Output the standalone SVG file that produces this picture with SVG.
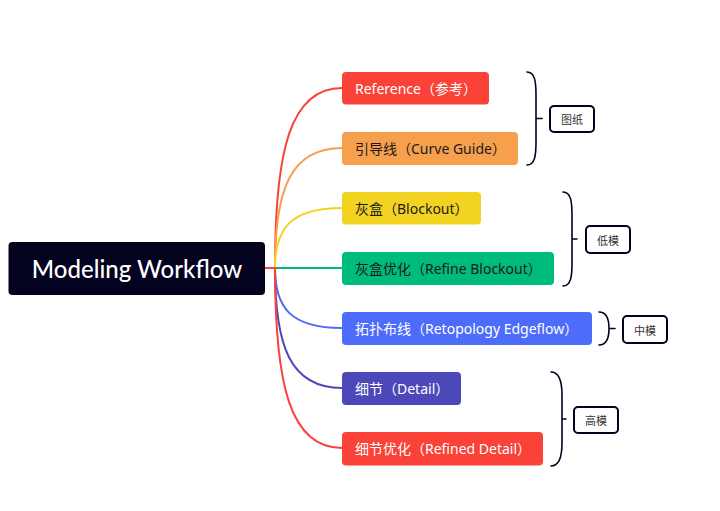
<svg xmlns="http://www.w3.org/2000/svg" width="720" height="511" viewBox="0 0 720 511">
<style>
.t{font-family:"Noto Sans","Noto Sans CJK SC",sans-serif;font-size:14px;font-weight:400;dominant-baseline:central}
.w{fill:#ffffff}.d{fill:#1a1a1a}
.c{fill:none;stroke-width:2;stroke-linecap:round}
.br{fill:none;stroke:#03021f;stroke-width:1.6;stroke-linecap:round}
.lb{fill:#ffffff;stroke:#03021f;stroke-width:2}
.lt{font-family:"Noto Sans CJK SC","Noto Sans",sans-serif;font-size:11px;fill:#333;text-anchor:middle;dominant-baseline:central}
</style>
<rect width="720" height="511" fill="#ffffff"/>
<g id="connectors">
<path class="c" stroke="#fa4238" d="M265,268 H275 C275,151 290,88 342,88"/>
<path class="c" stroke="#f6a04d" d="M275,268 C275,190 290,148 342,148"/>
<path class="c" stroke="#f3d321" d="M275,268 C275,229 290,208 342,208"/>
<path class="c" stroke="#00bc7b" d="M275,268 H342"/>
<path class="c" stroke="#4d6cfa" d="M275,268 C275,307 290,328 342,328"/>
<path class="c" stroke="#4d48ba" d="M275,268 C275,346 290,388 342,388"/>
<path class="c" stroke="#fa4238" d="M265,268 H275 C275,385 290,448 342,448"/>
</g>
<g id="root">
<rect x="8.5" y="242" width="256.5" height="53" rx="4" fill="#03021f"/>
<text x="137" y="268.5" text-anchor="middle" style="font-family:'Lato','Noto Sans',sans-serif;font-size:24px;font-weight:500;fill:#fff;dominant-baseline:central">Modeling Workflow</text>
</g>
<g id="n1"><rect x="342" y="72" width="147" height="32.5" rx="4" fill="#fa4238"/><text class="t w" x="355" y="88">Reference（参考）</text></g>
<g id="n2"><rect x="342" y="132" width="176" height="33" rx="4" fill="#f6a04d"/><text class="t d" x="355" y="148.5">引导线（Curve Guide）</text></g>
<g id="n3"><rect x="342" y="192" width="139" height="32.5" rx="4" fill="#f3d321"/><text class="t d" x="355" y="208">灰盒（Blockout）</text></g>
<g id="n4"><rect x="342" y="252" width="212" height="33" rx="4" fill="#00bc7b"/><text class="t d" x="355" y="268.5">灰盒优化（Refine Blockout）</text></g>
<g id="n5"><rect x="342" y="312" width="250" height="33" rx="4" fill="#4d6cfa"/><text class="t w" x="355" y="328.5">拓扑布线（Retopology Edgeflow）</text></g>
<g id="n6"><rect x="342" y="372" width="119" height="33" rx="4" fill="#4d48ba"/><text class="t w" x="355" y="388.5">细节（Detail）</text></g>
<g id="n7"><rect x="342" y="432" width="201" height="33.5" rx="4" fill="#fa4238"/><text class="t w" x="355" y="448.5">细节优化（Refined Detail）</text></g>
<g id="g1">
<path class="br" d="M527,72 C535,72 536,82 536,95 V142 C536,155 535,165 527,165 M536,118.5 H542"/>
<rect class="lb" x="550" y="106" width="44" height="26" rx="4"/><text class="lt" x="572" y="119">图纸</text>
</g>
<g id="g2">
<path class="br" d="M563,192 C571,192 572,202 572,215 V263 C572,276 571,286 563,286 M572,239 H577"/>
<rect class="lb" x="586" y="226" width="44" height="27" rx="4"/><text class="lt" x="608" y="239.5">低模</text>
</g>
<g id="g3">
<path class="br" d="M599,312 C607,312 609,320 609,328.5 C609,337 607,345 599,345 M609,328.5 H615"/>
<rect class="lb" x="623" y="316" width="44" height="27" rx="4"/><text class="lt" x="645" y="329.5">中模</text>
</g>
<g id="g4">
<path class="br" d="M551,372 C560,372 562,382 562,395 V443 C562,456 560,466 551,466 M562,419 H566"/>
<rect class="lb" x="574" y="407" width="44" height="26" rx="4"/><text class="lt" x="596" y="420">高模</text>
</g>
</svg>
